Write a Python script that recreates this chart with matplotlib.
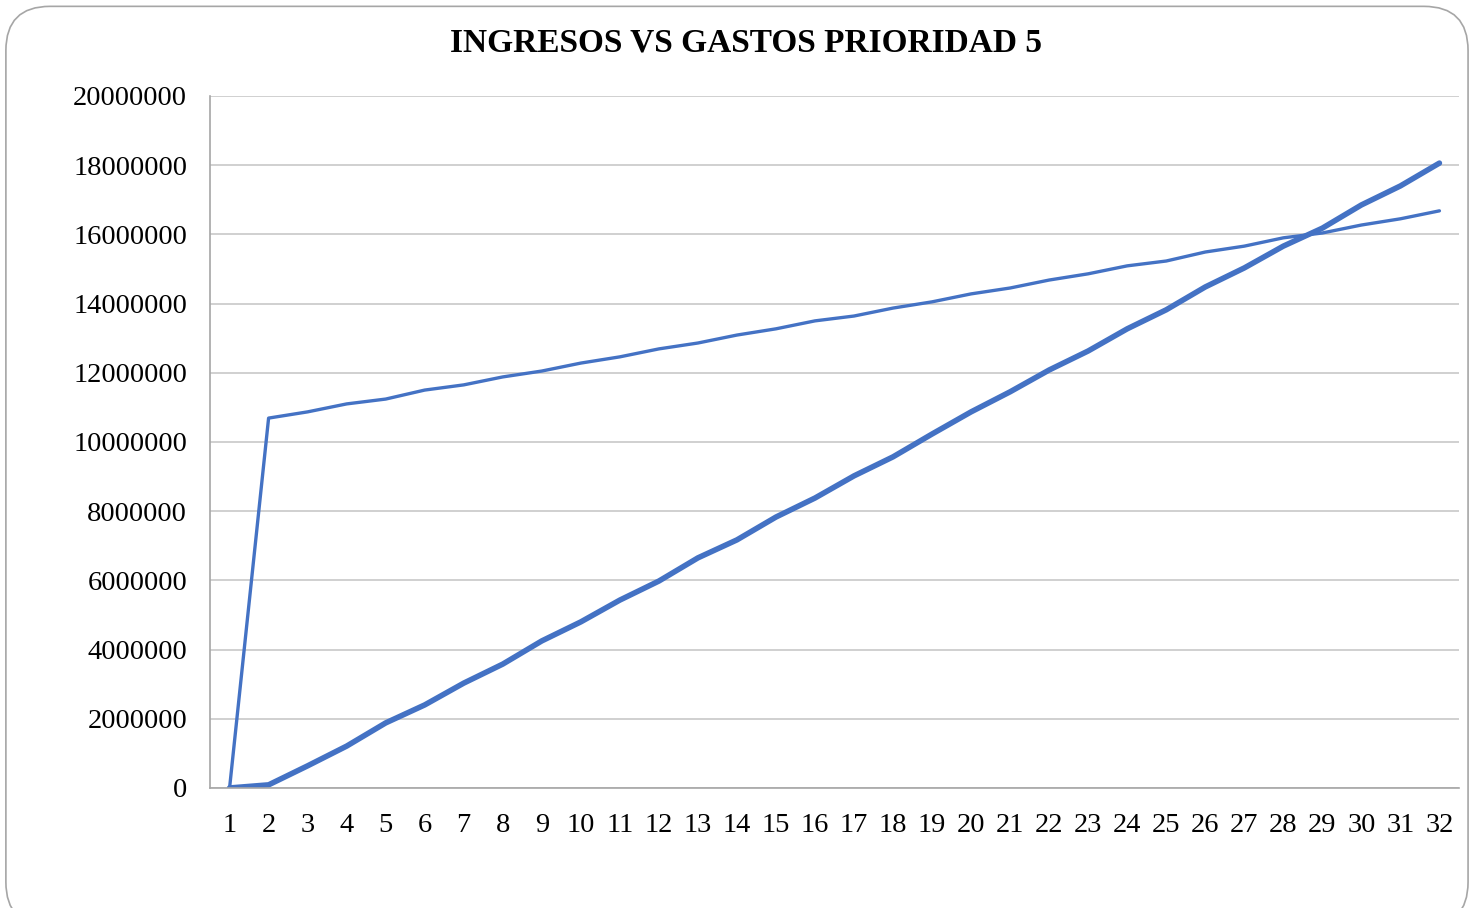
import matplotlib
matplotlib.use("Agg")
import matplotlib.pyplot as plt
from matplotlib.patches import FancyBboxPatch

periodos = list(range(1, 33))
ingresos = [0, 10690000, 10870000, 11100000, 11240000, 11500000, 11650000, 11880000,
            12050000, 12280000, 12460000, 12690000, 12860000, 13090000, 13270000, 13500000,
            13640000, 13870000, 14050000, 14280000, 14450000, 14680000, 14860000, 15090000,
            15230000, 15490000, 15660000, 15900000, 16040000, 16270000, 16450000, 16680000]
gastos = [0, 90000, 640000, 1210000, 1880000, 2400000, 3030000, 3580000,
          4250000, 4800000, 5430000, 5980000, 6650000, 7170000, 7830000, 8380000,
          9020000, 9570000, 10230000, 10870000, 11450000, 12080000, 12630000, 13270000,
          13820000, 14480000, 15030000, 15660000, 16180000, 16850000, 17400000, 18060000]
y_ticks = list(range(0, 20000001, 2000000))

plt.rcParams['font.family'] = ['Liberation Serif', 'DejaVu Serif']

fig = plt.figure(figsize=(14.71, 9.08), dpi=100)
borde = FancyBboxPatch((0.004, -0.02), 0.994, 1.013, transform=fig.transFigure,
                       boxstyle="round,pad=0,rounding_size=0.03", mutation_aspect=14.71/9.08,
                       facecolor='white', edgecolor='#A6A6A6', linewidth=1.2, zorder=-1)
fig.patches.append(borde)

ax = fig.add_axes([0.1428, 0.1322, 0.849, 0.7621])
ax.patch.set_alpha(0)
ax.plot(periodos, ingresos, color='#4472C4', linewidth=2.4, solid_capstyle='round')
ax.plot(periodos, gastos, color='#4472C4', linewidth=4.0, solid_capstyle='round')

ax.set_xlim(0.5, 32.5)
ax.set_ylim(0, 20000000)
ax.set_xticks(periodos)
ax.set_yticks(y_ticks)
ax.set_yticklabels([str(v) for v in y_ticks])
ax.tick_params(length=0, labelsize=20.5)
ax.tick_params(axis='x', pad=18)
ax.tick_params(axis='y', pad=16.5)
ax.grid(axis='y', color='#C8C8C8', linewidth=1.2)
ax.set_axisbelow(True)
for lado in ['top', 'right']:
    ax.spines[lado].set_visible(False)
for lado in ['left', 'bottom']:
    ax.spines[lado].set_color('#A6A6A6')
    ax.spines[lado].set_linewidth(1.2)

fig.text(0.507, 0.953, 'INGRESOS VS GASTOS PRIORIDAD 5', ha='center', va='center',
         fontsize=24, fontweight='bold')

fig.savefig('out.png', dpi=100)
